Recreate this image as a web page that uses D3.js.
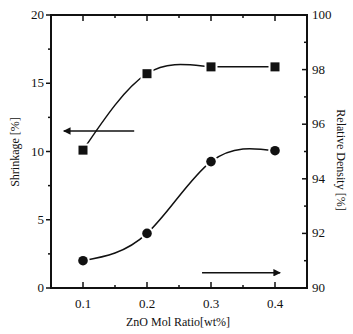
<!DOCTYPE html>
<html>
<head>
<meta charset="utf-8">
<script src="https://cdn.jsdelivr.net/npm/d3@7"></script>
<style>
body { margin: 0; background: #fff; }
text { font-family: "Liberation Serif", "DejaVu Serif", serif; fill: #111; }
</style>
</head>
<body>
<div id="graph"></div>
<script>
var ratios = [0.1, 0.2, 0.3, 0.4];
var shrinkage = [10.1, 15.7, 16.2, 16.2];
var density = [91.0, 92.0, 94.63, 95.03];
var xTicks = [0.1, 0.2, 0.3, 0.4];
var leftTicks = [0, 5, 10, 15, 20];
var rightTicks = [90, 92, 94, 96, 98, 100];

var vis = d3.select("#graph").append("svg")
    .attr("width", 353).attr("height", 334);
var defs = vis.append("svg:defs");

var pL = 51, pR = 307, pT = 15, pB = 288;
var x = d3.scaleLinear().domain([0.05, 0.45]).range([pL, pR]);
var yL = d3.scaleLinear().domain([0, 20]).range([pB, pT]);
var yR = d3.scaleLinear().domain([90, 100]).range([pB, pT]);

// frame
vis.append("rect").attr("x", pL).attr("y", pT)
    .attr("width", pR - pL).attr("height", pB - pT)
    .attr("fill", "none").attr("stroke", "#111").attr("stroke-width", 2);

// ticks
var minorX = d3.range(0.05, 0.451, 0.05);
minorX.forEach(function (v) {
    var major = xTicks.some(function (t) { return Math.abs(t - v) < 1e-6; });
    var len = major ? 6 : 3;
    vis.append("line").attr("x1", x(v)).attr("x2", x(v))
        .attr("y1", pB).attr("y2", pB - len).attr("stroke", "#111").attr("stroke-width", 1.5);
    vis.append("line").attr("x1", x(v)).attr("x2", x(v))
        .attr("y1", pT).attr("y2", pT + len).attr("stroke", "#111").attr("stroke-width", 1.5);
});
d3.range(0, 20.1, 2.5).forEach(function (v) {
    var len = v % 5 === 0 ? 5 : 3;
    vis.append("line").attr("x1", pL).attr("x2", pL - len)
        .attr("y1", yL(v)).attr("y2", yL(v)).attr("stroke", "#111").attr("stroke-width", 1.5);
});
d3.range(90, 100.1, 1).forEach(function (v) {
    var len = v % 2 === 0 ? 5 : 3;
    vis.append("line").attr("x1", pR).attr("x2", pR - len)
        .attr("y1", yR(v)).attr("y2", yR(v)).attr("stroke", "#111").attr("stroke-width", 1.5);
});

// tick labels
vis.selectAll(".xl").data(xTicks).enter().append("text")
    .attr("x", function (d) { return x(d); }).attr("y", pB + 20)
    .attr("text-anchor", "middle").attr("font-size", 13)
    .text(function (d) { return d.toFixed(1); });
vis.selectAll(".yl").data(leftTicks).enter().append("text")
    .attr("x", pL - 7).attr("y", function (d) { return yL(d) + 4; })
    .attr("text-anchor", "end").attr("font-size", 13)
    .text(function (d) { return d; });
vis.selectAll(".yr").data(rightTicks).enter().append("text")
    .attr("x", pR + 5).attr("y", function (d) { return yR(d) + 4; })
    .attr("text-anchor", "start").attr("font-size", 13)
    .text(function (d) { return d; });

// axis titles
vis.append("text").attr("x", 178).attr("y", 326).attr("text-anchor", "middle")
    .attr("font-size", 12).text("ZnO Mol Ratio[wt%]");
vis.append("text").attr("transform", "translate(19,152) rotate(-90)")
    .attr("text-anchor", "middle").attr("font-size", 12).text("Shrinkage [%]");
vis.append("text").attr("transform", "translate(337,160) rotate(90)")
    .attr("text-anchor", "middle").attr("font-size", 12).text("Relative Density [%]");

// curves
var sPts = ratios.map(function (r, i) { return [x(r), yL(shrinkage[i])]; });
var dPts = ratios.map(function (r, i) { return [x(r), yR(density[i])]; });
var line = d3.line().curve(d3.curveNatural);

// shrinkage: smooth up to 0.3, then a straight run to 0.4
defs.append("clipPath").attr("id", "upTo03").append("rect")
    .attr("x", 0).attr("y", 0).attr("width", x(0.3)).attr("height", 334);
vis.append("path").attr("d", line(sPts)).attr("fill", "none")
    .attr("clip-path", "url(#upTo03)")
    .attr("stroke", "#111").attr("stroke-width", 1.5);
vis.append("path").attr("d", d3.line()(sPts.slice(2))).attr("fill", "none")
    .attr("stroke", "#111").attr("stroke-width", 1.5);
vis.append("path").attr("d", line(dPts)).attr("fill", "none")
    .attr("stroke", "#111").attr("stroke-width", 1.5);

// markers with white halo to open gaps
vis.selectAll(".sq").data(sPts).enter().append("rect")
    .attr("x", function (d) { return d[0] - 4.5; }).attr("y", function (d) { return d[1] - 4.5; })
    .attr("width", 9).attr("height", 9)
    .attr("fill", "#111").attr("stroke", "#fff").attr("stroke-width", 4).attr("paint-order", "stroke");
vis.selectAll(".ci").data(dPts).enter().append("circle")
    .attr("cx", function (d) { return d[0]; }).attr("cy", function (d) { return d[1]; })
    .attr("r", 4.8)
    .attr("fill", "#111").attr("stroke", "#fff").attr("stroke-width", 4).attr("paint-order", "stroke");

// arrows
defs.append("svg:marker")
    .attr("id", "Triangle").attr("viewBox", "0 0 10 10")
    .attr("refX", 9).attr("refY", 5)
    .attr("markerWidth", 7).attr("markerHeight", 5)
    .attr("orient", "auto")
    .append("svg:path").attr("d", "M 0 0 L 10 5 L 0 10 z").attr("fill", "#111");
vis.append("line")
    .attr("x1", x(0.18)).attr("y1", yL(11.5)).attr("x2", x(0.07)).attr("y2", yL(11.5))
    .attr("stroke", "#111").attr("stroke-width", 1.5).attr("marker-end", "url(#Triangle)");
vis.append("line")
    .attr("x1", x(0.286)).attr("y1", yR(90.56)).attr("x2", x(0.408)).attr("y2", yR(90.56))
    .attr("stroke", "#111").attr("stroke-width", 1.5).attr("marker-end", "url(#Triangle)");
</script>
</body>
</html>
